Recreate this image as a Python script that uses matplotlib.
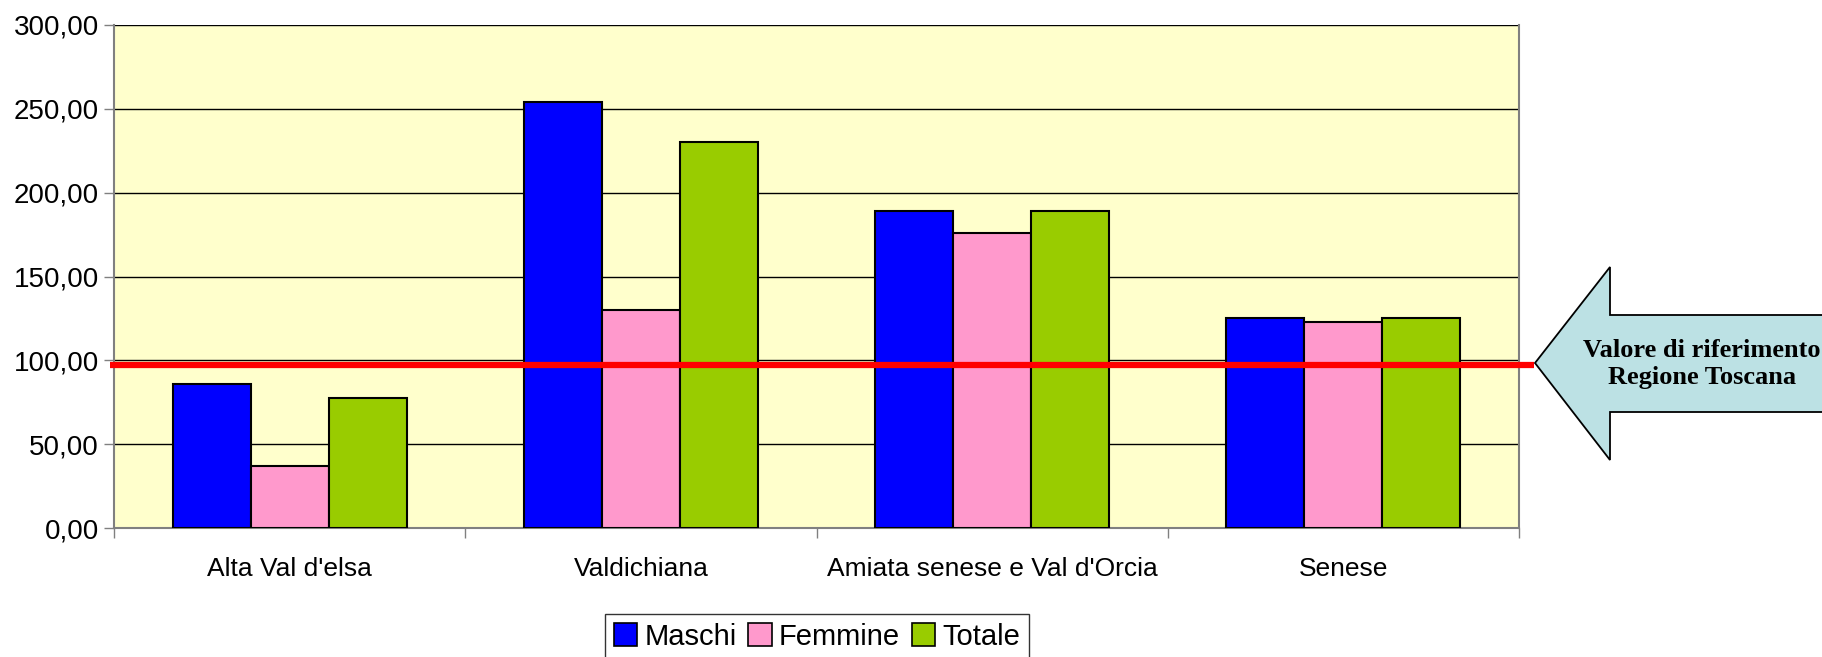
import matplotlib
matplotlib.use('Agg')
import matplotlib.pyplot as plt
from matplotlib.patches import Polygon, Patch
from matplotlib.ticker import FuncFormatter, FixedLocator
import matplotlib.transforms as mtransforms
import numpy as np

plt.rcParams['font.family'] = ['Liberation Sans', 'DejaVu Sans']

zone = ["Alta Val d'elsa", "Valdichiana", "Amiata senese e Val d'Orcia", "Senese"]
maschi = [86.0, 254.0, 189.0, 125.5]
femmine = [37.0, 130.0, 176.0, 123.0]
totale = [77.5, 230.0, 189.0, 125.5]
riferimento = 97.5
serie_nomi = ['Maschi', 'Femmine', 'Totale']
colori = ['#0000FF', '#FF99CC', '#99CC00']

W, H = 1822, 657
fig = plt.figure(figsize=(W / 100, H / 100), dpi=100)
ax = fig.add_axes([114 / W, 1 - 528 / H, (1519 - 114) / W, (528 - 25) / H])
ax.set_facecolor('#FFFFCC')

x = np.arange(len(zone))
w = 1 / 4.5
for k, (vals, c) in enumerate(zip([maschi, femmine, totale], colori)):
    ax.bar(x + (k - 1) * w, vals, w, color=c, edgecolor='black', linewidth=1.5,
           zorder=3, label=serie_nomi[k])

ax.set_xlim(-0.5, len(zone) - 0.5)
ax.set_ylim(0, 300)
ax.set_yticks(np.arange(0, 301, 50))
ax.yaxis.set_major_formatter(FuncFormatter(lambda v, p: f'{v:.2f}'.replace('.', ',')))
ax.grid(axis='y', color='black', linewidth=1, zorder=1)
ax.set_axisbelow(True)

ax.set_xticks(x)
ax.set_xticklabels(zone)
ax.xaxis.set_minor_locator(FixedLocator(np.arange(-0.5, len(zone), 1)))
ax.tick_params(axis='x', which='major', length=0, pad=21, labelsize=19)
ax.tick_params(axis='x', which='minor', length=7, width=1, color='#808080', direction='out')
ax.tick_params(axis='y', length=7, width=1, color='#808080', pad=4, labelsize=20)

for s in ['left', 'bottom', 'right', 'top']:
    ax.spines[s].set_color('#808080')
    ax.spines[s].set_linewidth(1.5)
ax.spines['top'].set_visible(False)

# linea di riferimento regionale
trans = mtransforms.blended_transform_factory(ax.transAxes, ax.transData)
ax.plot([-0.003, 1.0107], [riferimento, riferimento], color='#FF0000', linewidth=4.5,
        transform=trans, clip_on=False, zorder=5, solid_capstyle='butt')

# freccia
pts = [(1535, 363), (1610, 267), (1610, 315), (1840, 315), (1840, 412), (1610, 412), (1610, 460)]
arrow = Polygon([(px / W, 1 - py / H) for px, py in pts], closed=True,
                facecolor='#BCE1E4', edgecolor='black', linewidth=1.3,
                transform=fig.transFigure, zorder=6)
fig.add_artist(arrow)
fig.text(1702 / W, 1 - 364 / H, 'Valore di riferimento\nRegione Toscana', ha='center', va='center',
         fontsize=19, fontweight='bold', family=['Liberation Serif', 'DejaVu Serif'],
         linespacing=1.25, zorder=7)

handles = [Patch(facecolor=c, edgecolor='black', linewidth=1.2) for c in colori]
leg = fig.legend(handles, serie_nomi, loc='upper center', bbox_to_anchor=(817 / W, 1 - 614 / H),
                 ncol=3, fontsize=21, frameon=True, fancybox=False, handlelength=0.8,
                 handleheight=0.8, handletextpad=0.25, columnspacing=0.4, borderpad=0.3,
                 borderaxespad=0)
leg.get_frame().set_edgecolor('black')
leg.get_frame().set_linewidth(1)

fig.savefig('out.png', dpi=100)
